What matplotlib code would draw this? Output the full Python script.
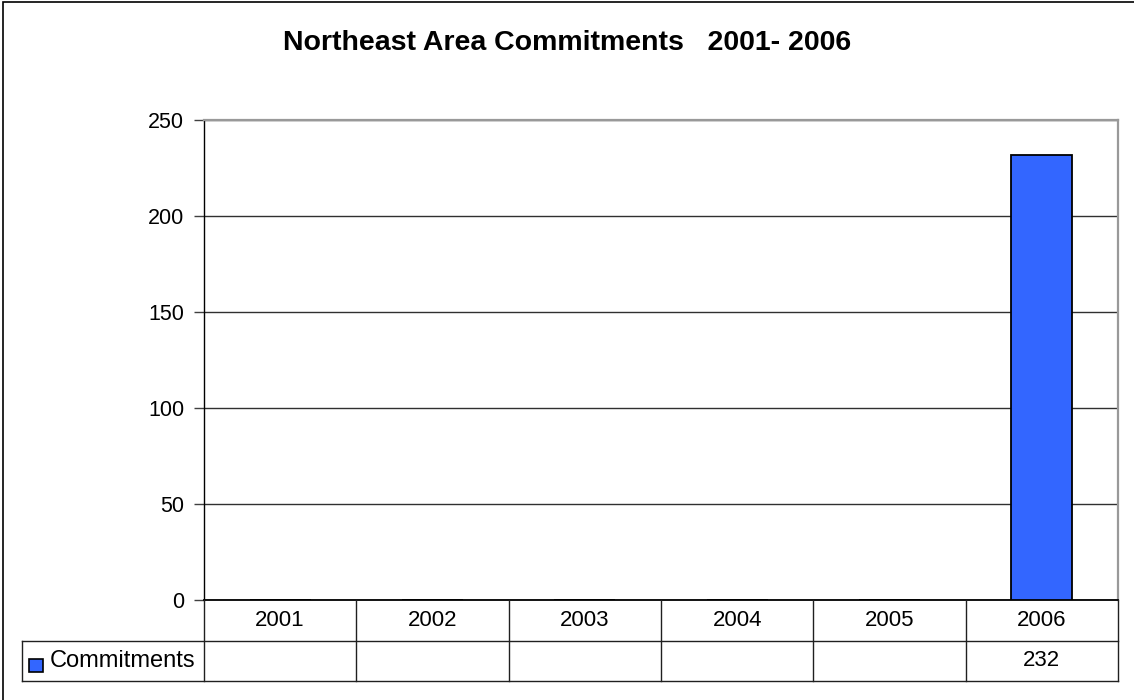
import matplotlib.pyplot as plt
from matplotlib.lines import Line2D
from matplotlib.patches import Rectangle

plt.rcParams['font.family'] = ['Liberation Sans', 'DejaVu Sans']

# Chart data
years = ['2001', '2002', '2003', '2004', '2005', '2006']
commitments = [None, None, None, None, None, 232]
series_name = 'Commitments'
y_ticks = [0, 50, 100, 150, 200, 250]
bar_color = '#3366FF'

W, H = 1134, 700
fig = plt.figure(figsize=(W / 100, H / 100), dpi=100)

# outer chart frame (runs off the right and bottom edges)
fig.add_artist(Rectangle((3 / W, -0.1), 1.2, 1.1 - 2 / H, transform=fig.transFigure,
                         fill=False, edgecolor='black', linewidth=1.2))

left, right, top, bottom = 204, 1118, 120, 600
ax = fig.add_axes([left / W, (H - bottom) / H, (right - left) / W, (bottom - top) / H])

xs = list(range(len(years)))
vals = [v if v is not None else 0 for v in commitments]
ax.bar(xs, vals, width=0.4, color=bar_color, edgecolor='black', linewidth=1.3, zorder=3)

ax.set_xlim(-0.5, len(years) - 0.5)
ax.set_ylim(0, 250)
ax.set_yticks(y_ticks)
ax.set_yticklabels([str(t) for t in y_ticks], fontsize=15.5)
ax.tick_params(axis='y', length=7, width=1, pad=7.2, color='#404040')
ax.tick_params(axis='x', length=0, labelbottom=False)
ax.yaxis.grid(True, color='#303030', linewidth=1)
ax.set_axisbelow(True)

for side in ['top', 'right']:
    ax.spines[side].set_color('#999999')
    ax.spines[side].set_linewidth(1.6)
ax.spines['left'].set_color('black')
ax.spines['bottom'].set_color('black')
ax.spines['left'].set_linewidth(1)
ax.spines['bottom'].set_linewidth(1.3)

fig.suptitle('Northeast Area Commitments   2001- 2006', fontsize=20.5, fontweight='bold',
             x=0.5, y=1 - 43 / H, va='center')

# data table below the plot, in pixel-based figure coordinates
def fx(px):
    return px / W

def fy(py):
    return 1 - py / H

row1, row2, row3 = 600, 641, 681
label_left = 22
col_w = (right - left) / len(years)
line_kw = dict(color='#202020', linewidth=1, transform=fig.transFigure)

# horizontal rules
fig.add_artist(Line2D([fx(label_left), fx(right)], [fy(row2), fy(row2)], **line_kw))
fig.add_artist(Line2D([fx(label_left), fx(right)], [fy(row3), fy(row3)], **line_kw))
# vertical rules
fig.add_artist(Line2D([fx(label_left), fx(label_left)], [fy(row2), fy(row3)], **line_kw))
for i in range(len(years) + 1):
    x = left + i * col_w
    fig.add_artist(Line2D([fx(x), fx(x)], [fy(row1), fy(row3)], **line_kw))

for i, (yr, v) in enumerate(zip(years, commitments)):
    cx = left + (i + 0.5) * col_w
    fig.text(fx(cx), fy((row1 + row2) / 2), yr, ha='center', va='center', fontsize=16)
    if v is not None:
        fig.text(fx(cx), fy((row2 + row3) / 2), str(v), ha='center', va='center', fontsize=16)

# legend key in the table row label
fig.add_artist(Rectangle((fx(29), fy(672)), 14 / W, 13 / H, transform=fig.transFigure,
                         facecolor=bar_color, edgecolor='black', linewidth=1.2))
fig.text(fx(50), fy((row2 + row3) / 2), series_name, ha='left', va='center', fontsize=17)

fig.savefig('out.png', dpi=100)
